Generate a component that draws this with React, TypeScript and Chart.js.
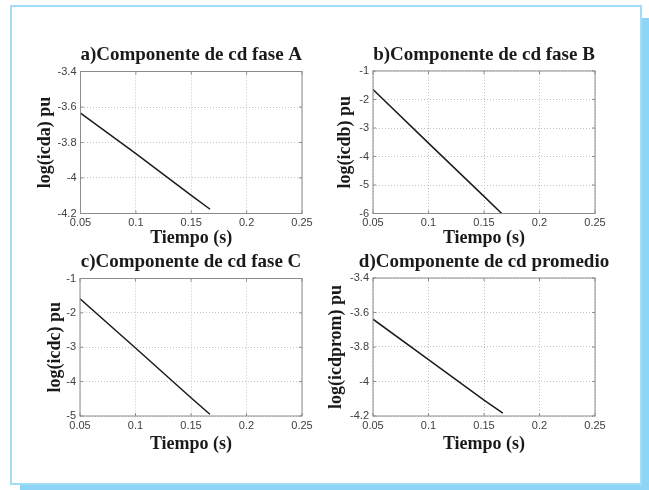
import React, { useEffect, useRef } from "react";
import { Chart, registerables } from "chart.js";

Chart.register(...registerables);

// ---------- data ----------
const xTicks = [0.05, 0.1, 0.15, 0.2, 0.25];
const xTickLabels = ["0.05", "0.1", "0.15", "0.2", "0.25"];

const timeA = [0.05, 0.1, 0.15, 0.167];
const logIcdA = [-3.634, -3.863, -4.098, -4.176];
const timeB = [0.05, 0.1, 0.15, 0.166];
const logIcdB = [-1.65, -3.53, -5.4, -6.0];
const timeC = [0.05, 0.1, 0.15, 0.167];
const logIcdC = [-1.59, -3.02, -4.47, -4.95];
const timeD = [0.05, 0.1, 0.15, 0.167];
const logIcdProm = [-3.639, -3.873, -4.108, -4.183];

const yTicksA = [-4.2, -4, -3.8, -3.6, -3.4];
const yTickLabelsA = ["-4.2", "-4", "-3.8", "-3.6", "-3.4"];
const yTicksB = [-6, -5, -4, -3, -2, -1];
const yTickLabelsB = ["-6", "-5", "-4", "-3", "-2", "-1"];
const yTicksC = [-5, -4, -3, -2, -1];
const yTickLabelsC = ["-5", "-4", "-3", "-2", "-1"];
const yTicksD = [-4.2, -4, -3.8, -3.6, -3.4];
const yTickLabelsD = ["-4.2", "-4", "-3.8", "-3.6", "-3.4"];

const plotTitles = [
  "a)Componente de cd fase A",
  "b)Componente de cd fase B",
  "c)Componente de cd fase C",
  "d)Componente de cd promedio",
];
const yTitles = ["log(icda) pu", "log(icdb) pu", "log(icdc) pu", "log(icdprom) pu"];
const xTitle = "Tiempo (s)";

// ---------- layout (styling only) ----------
type Area = { l: number; r: number; t: number; b: number };
type Spec = {
  title: string;
  yTitle: string;
  xs: number[];
  ys: number[];
  yTicks: number[];
  yTickLabels: string[];
  area: Area;
  titleY: number;
  yTitleX: number;
  xTitleY: number;
};

const specs: Spec[] = [
  { title: plotTitles[0], yTitle: yTitles[0], xs: timeA, ys: logIcdA, yTicks: yTicksA, yTickLabels: yTickLabelsA,
    area: { l: 80.5, r: 302, t: 71.5, b: 213.5 }, titleY: 55, yTitleX: 45, xTitleY: 238 },
  { title: plotTitles[1], yTitle: yTitles[1], xs: timeB, ys: logIcdB, yTicks: yTicksB, yTickLabels: yTickLabelsB,
    area: { l: 373, r: 595, t: 71, b: 213.5 }, titleY: 55, yTitleX: 345, xTitleY: 238 },
  { title: plotTitles[2], yTitle: yTitles[2], xs: timeC, ys: logIcdC, yTicks: yTicksC, yTickLabels: yTickLabelsC,
    area: { l: 80, r: 302, t: 278.5, b: 416 }, titleY: 262, yTitleX: 55, xTitleY: 444 },
  { title: plotTitles[3], yTitle: yTitles[3], xs: timeD, ys: logIcdProm, yTicks: yTicksD, yTickLabels: yTickLabelsD,
    area: { l: 373, r: 595, t: 278, b: 416 }, titleY: 262, yTitleX: 336, xTitleY: 444 },
];

const SERIF = '"Liberation Serif", "Times New Roman", serif';
const SANS = '"Liberation Sans", Arial, sans-serif';
const TITLE_SIZE = 19;
const AXIS_SIZE = 18;
const TICK_SIZE = 11;
const LH = 1.2;

const widenTitlePlugin = {
  id: "widenTitle",
  afterLayout(chart: any) {
    const tb = chart.titleBlock;
    if (tb) {
      tb.left -= 80;
      tb.right += 80;
      tb.width = tb.right - tb.left;
    }
  },
};

const boxPlugin = {
  id: "matlabBox",
  afterDraw(chart: any) {
    const { ctx, chartArea } = chart;
    const { left, right, top, bottom } = chartArea;
    ctx.save();
    ctx.strokeStyle = "#8c8c8c";
    ctx.lineWidth = 1;
    ctx.setLineDash([]);
    ctx.strokeRect(left, top, right - left, bottom - top);
    const tk = 3;
    ctx.beginPath();
    const xs = chart.scales.x;
    xs.ticks.forEach((t: any) => {
      const px = xs.getPixelForValue(t.value);
      ctx.moveTo(px, bottom);
      ctx.lineTo(px, bottom - tk);
      ctx.moveTo(px, top);
      ctx.lineTo(px, top + tk);
    });
    const ys = chart.scales.y;
    ys.ticks.forEach((t: any) => {
      const py = ys.getPixelForValue(t.value);
      ctx.moveTo(left, py);
      ctx.lineTo(left + tk, py);
      ctx.moveTo(right, py);
      ctx.lineTo(right - tk, py);
    });
    ctx.stroke();
    ctx.restore();
  },
};

function Plot({ spec }: { spec: Spec }) {
  const ref = useRef<HTMLCanvasElement | null>(null);

  const lhT = TITLE_SIZE * LH;
  const lhA = AXIS_SIZE * LH;
  const x0 = spec.yTitleX - lhA / 2;
  const cl = Math.floor(x0) - 2;
  const padL = x0 - cl;
  const wy = spec.area.l - x0;
  const y0 = spec.titleY - lhT / 2;
  const ct = Math.floor(y0) - 2;
  const padT = y0 - ct;
  const titlePadBottom = spec.area.t - (spec.titleY + lhT / 2);
  const yb = spec.xTitleY + lhA / 2;
  const cb = Math.ceil(yb) + 2;
  const padB = cb - yb;
  const hx = yb - spec.area.b;
  const padR = 40;
  const cr = Math.ceil(spec.area.r + padR);
  const padRight = cr - spec.area.r;
  const width = cr - cl;
  const height = cb - ct;

  useEffect(() => {
    if (!ref.current) return;
    const chart = new Chart(ref.current, {
      type: "line",
      data: {
        datasets: [
          {
            data: spec.xs.map((x, i) => ({ x, y: spec.ys[i] })),
            borderColor: "#1c1c1c",
            borderWidth: 1.5,
            pointRadius: 0,
            tension: 0,
            fill: false,
          },
        ],
      },
      options: {
        responsive: false,
        animation: false,
        devicePixelRatio: 1,
        events: [],
        layout: { padding: { left: padL, top: padT, bottom: padB, right: padRight } },
        plugins: {
          legend: { display: false },
          tooltip: { enabled: false },
          title: {
            display: true,
            text: spec.title,
            fullSize: false,
            color: "#1a1a1a",
            font: { family: SERIF, size: TITLE_SIZE, weight: "bold", lineHeight: LH },
            padding: { top: 0, bottom: titlePadBottom },
          },
        },
        scales: {
          x: {
            type: "linear",
            min: xTicks[0],
            max: xTicks[xTicks.length - 1],
            afterBuildTicks: (s: any) => {
              s.ticks = xTicks.map((v) => ({ value: v }));
            },
            afterFit: (s: any) => {
              s.height = hx;
            },
            ticks: {
              autoSkip: false,
              maxRotation: 0,
              padding: 3,
              color: "#404040",
              font: { family: SANS, size: TICK_SIZE },
              callback: (_v: any, i: number) => xTickLabels[i],
            },
            grid: { color: "#c4c4c4", lineWidth: 1, drawTicks: false },
            border: { display: false, dash: [1, 2] },
            title: {
              display: true,
              text: xTitle,
              color: "#1a1a1a",
              font: { family: SERIF, size: AXIS_SIZE, weight: "bold", lineHeight: LH },
              padding: { top: 0, bottom: 0 },
            },
          },
          y: {
            type: "linear",
            min: spec.yTicks[0],
            max: spec.yTicks[spec.yTicks.length - 1],
            afterBuildTicks: (s: any) => {
              s.ticks = spec.yTicks.map((v) => ({ value: v }));
            },
            afterFit: (s: any) => {
              s.width = wy;
            },
            ticks: {
              autoSkip: false,
              padding: 4,
              color: "#404040",
              font: { family: SANS, size: TICK_SIZE },
              callback: (_v: any, i: number) => spec.yTickLabels[i],
            },
            grid: { color: "#c4c4c4", lineWidth: 1, drawTicks: false },
            border: { display: false, dash: [1, 2] },
            title: {
              display: true,
              text: spec.yTitle,
              color: "#1a1a1a",
              font: { family: SERIF, size: AXIS_SIZE, weight: "bold", lineHeight: LH },
              padding: { top: 0, bottom: 0 },
            },
          },
        },
      },
      plugins: [widenTitlePlugin, boxPlugin],
    } as any);
    return () => chart.destroy();
  }, []);

  return (
    <canvas
      ref={ref}
      width={width}
      height={height}
      style={{ position: "absolute", left: cl, top: ct, width, height }}
    />
  );
}

export default function App() {
  return (
    <div
      style={{
        position: "fixed",
        left: 0,
        top: 0,
        width: 649,
        height: 490,
        background: "#ffffff",
        overflow: "hidden",
      }}
    >
      <div style={{ position: "absolute", left: 642, top: 18, width: 7, height: 472, background: "#8cd5f6" }} />
      <div style={{ position: "absolute", left: 20, top: 485, width: 629, height: 5, background: "#8cd5f6" }} />
      <div
        style={{
          position: "absolute",
          left: 10,
          top: 5,
          width: 632,
          height: 480,
          boxSizing: "border-box",
          border: "2px solid #a3dcf5",
          background: "#ffffff",
        }}
      />
      {specs.map((s, i) => (
        <Plot key={i} spec={s} />
      ))}
    </div>
  );
}
